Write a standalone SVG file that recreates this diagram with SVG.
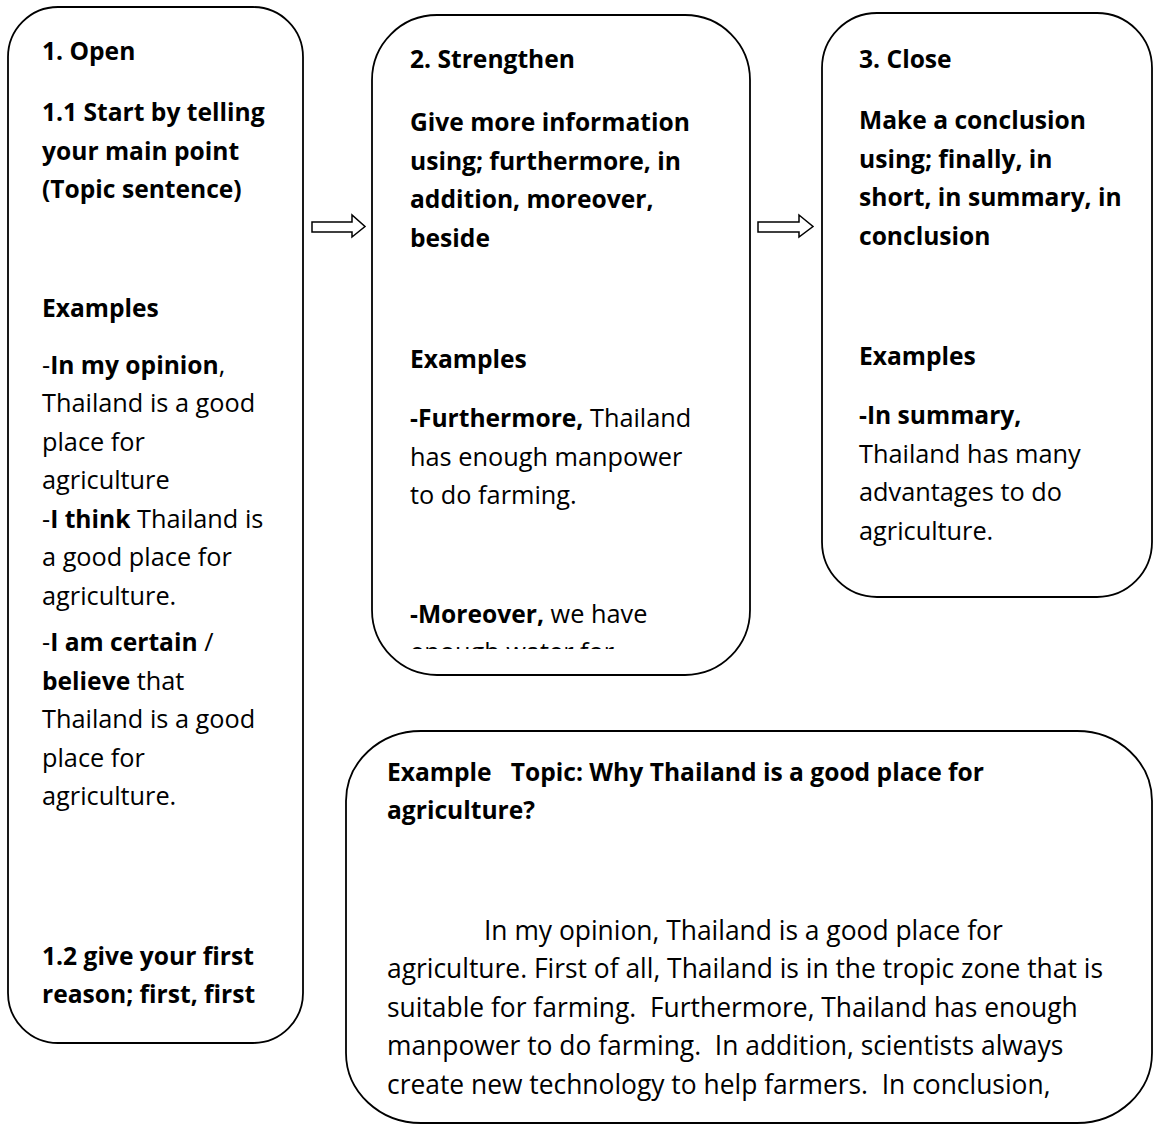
<svg xmlns="http://www.w3.org/2000/svg" width="1154" height="1125" viewBox="0 0 1154 1125">
<style>
.box{fill:#fff;stroke:#000;stroke-width:1.8}
.arr{fill:#fff;stroke:#000;stroke-width:1.5;stroke-linejoin:miter}
text{font-family:"Open Sans",Lato,"Liberation Sans",sans-serif;font-size:25.3px;fill:#000}
.b{font-weight:bold;font-size:24.6px}
.p{font-size:26.4px}
</style>
<defs>
<clipPath id="clip2"><rect x="372" y="0" width="380" height="649"/></clipPath>
</defs>
<rect width="1154" height="1125" fill="#fff"/>
<g id="connectors">
<path class="arr" d="M312,222 H352 V215 L365,226.5 L352,237 V232 H312 Z"/>
<path class="arr" d="M758,222 H799 V215 L813,226.5 L799,237 V232 H758 Z"/>
</g>
<g id="node-open">
<rect class="box" x="8" y="7" width="295" height="1036" rx="50" ry="50"/>
<text class="b" x="42" y="60">1. Open</text>
<text class="b" x="42" y="121">1.1 Start by telling</text>
<text class="b" x="42" y="160">your main point</text>
<text class="b" x="42" y="198">(Topic sentence)</text>
<text class="b" x="42" y="317">Examples</text>
<text x="42" y="374">-<tspan class="b">In my opinion</tspan>,</text>
<text x="42" y="412">Thailand is a good</text>
<text x="42" y="451">place for</text>
<text x="42" y="489">agriculture</text>
<text x="42" y="528">-<tspan class="b">I think</tspan> Thailand is</text>
<text x="42" y="566">a good place for</text>
<text x="42" y="605">agriculture.</text>
<text x="42" y="651">-<tspan class="b">I am certain</tspan> /</text>
<text x="42" y="690"><tspan class="b">believe</tspan> that</text>
<text x="42" y="728">Thailand is a good</text>
<text x="42" y="767">place for</text>
<text x="42" y="805">agriculture.</text>
<text class="b" x="42" y="965">1.2 give your first</text>
<text class="b" x="42" y="1003">reason; first, first</text>
</g>
<g id="node-strengthen">
<rect class="box" x="372" y="15" width="378" height="660" rx="65" ry="65"/>
<text class="b" x="410" y="68">2. Strengthen</text>
<text class="b" x="410" y="131">Give more information</text>
<text class="b" x="410" y="170">using; furthermore, in</text>
<text class="b" x="410" y="208">addition, moreover,</text>
<text class="b" x="410" y="247">beside</text>
<text class="b" x="410" y="368">Examples</text>
<text x="410" y="427"><tspan class="b">-Furthermore,</tspan> Thailand</text>
<text x="410" y="466">has enough manpower</text>
<text x="410" y="504">to do farming.</text>
<text x="410" y="623"><tspan class="b">-Moreover,</tspan> we have</text>
<text x="410" y="661" clip-path="url(#clip2)">enough water for</text>
</g>
<g id="node-close">
<rect class="box" x="822" y="13" width="330" height="584" rx="55" ry="55"/>
<text class="b" x="859" y="68">3. Close</text>
<text class="b" x="859" y="129">Make a conclusion</text>
<text class="b" x="859" y="168">using; finally, in</text>
<text class="b" x="859" y="206">short, in summary, in</text>
<text class="b" x="859" y="245">conclusion</text>
<text class="b" x="859" y="365">Examples</text>
<text class="b" x="859" y="424">-In summary,</text>
<text x="859" y="463">Thailand has many</text>
<text x="859" y="501">advantages to do</text>
<text x="859" y="540">agriculture.</text>
</g>
<g id="node-example">
<rect class="box" x="346" y="731" width="806" height="392" rx="75" ry="70"/>
<text class="b" x="387" y="781" xml:space="preserve">Example   Topic: Why Thailand is a good place for</text>
<text class="b" x="387" y="819">agriculture?</text>
<text class="p" x="484" y="940">In my opinion, Thailand is a good place for</text>
<text class="p" x="387" y="978">agriculture. First of all, Thailand is in the tropic zone that is</text>
<text class="p" x="387" y="1017" xml:space="preserve">suitable for farming.  Furthermore, Thailand has enough</text>
<text class="p" x="387" y="1055" xml:space="preserve">manpower to do farming.  In addition, scientists always</text>
<text class="p" x="387" y="1094" xml:space="preserve">create new technology to help farmers.  In conclusion,</text>
</g>
</svg>
